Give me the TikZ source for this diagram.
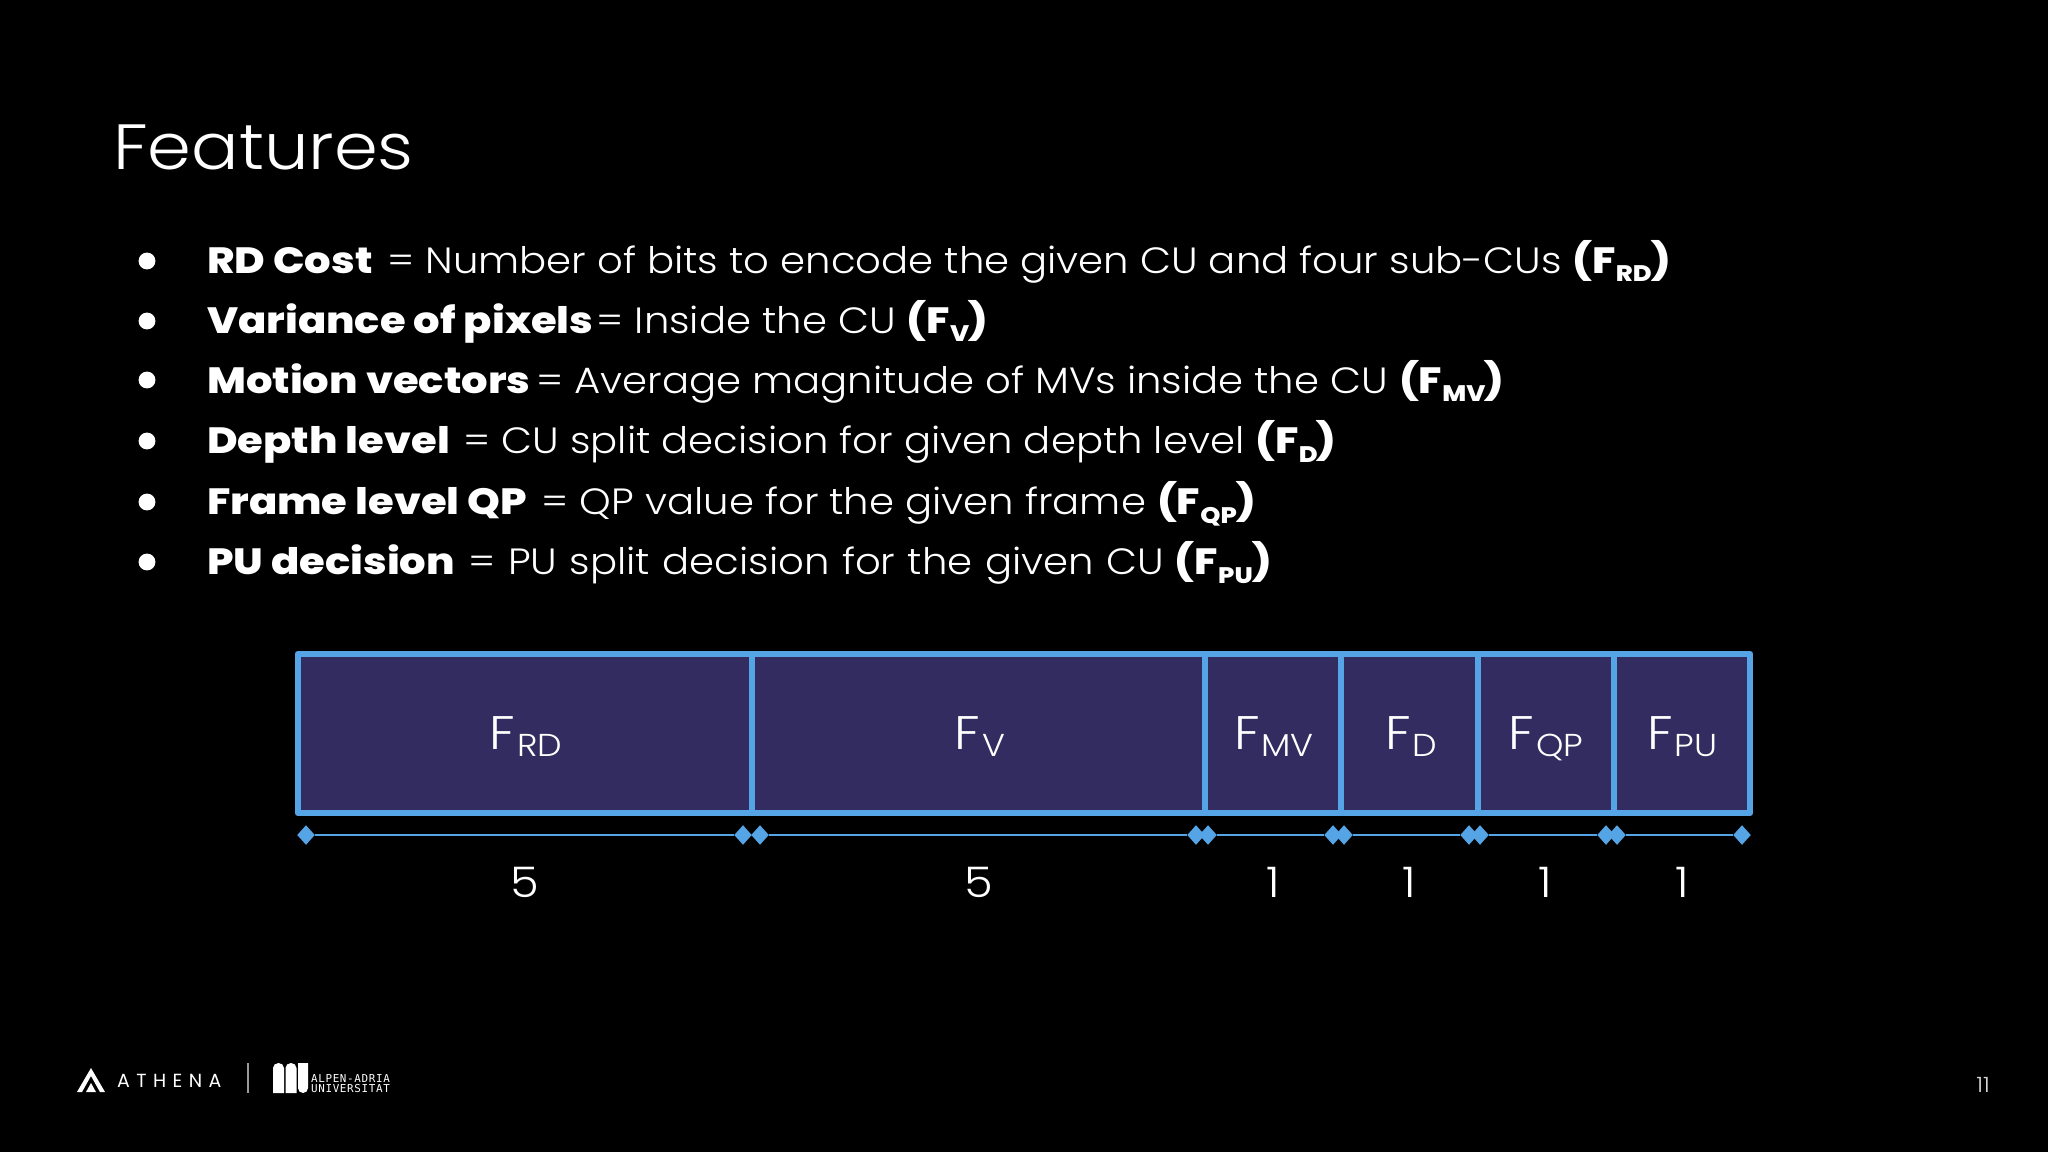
\documentclass[tikz,border=0pt]{standalone}
\usepackage{fontspec}
\usetikzlibrary{shapes.geometric}
\setmainfont{Poppins Light}[BoldFont=Poppins ExtraBold,FakeStretch=1.1,BoldFeatures={FakeStretch=1.14}]
\newfontfamily\athenafont{Poppins}[LetterSpace=34]
\newfontfamily\unifont{DejaVu Sans Mono}[LetterSpace=6]
\definecolor{barfill}{HTML}{332C60}
\definecolor{barline}{HTML}{55A5E6}
\definecolor{muted}{HTML}{9A9A9A}
\definecolor{pagegrey}{HTML}{D8D8D8}
\newcommand{\sbr}[1]{\kern0.01em\raisebox{-12.8pt}{\fontsize{32}{32}\selectfont #1}\kern-0.02em}
\newcommand{\FF}[1]{F\kern0.04em\raisebox{-11.3pt}{\fontsize{45}{45}\selectfont #1}}
\newcommand{\wsp}[2]{{\spaceskip=\dimexpr\fontdimen2\font+#1\relax #2}}
\tikzset{
 x=0.05cm,y=-0.05cm,
 bullettext/.style={anchor=base west,text=white,inner sep=0,font=\fontsize{52}{56}\selectfont},
 dot/.style={circle,fill=white,minimum size=24pt,inner sep=0,draw=none},
 seg/.style={anchor=base,text=white,inner sep=0,font=\fontsize{67}{70}\selectfont},
 num/.style={anchor=base,text=white,inner sep=0,font=\fontsize{60}{64}\selectfont},
 dia/.style={diamond,fill=barline,draw=none,minimum width=25pt,minimum height=28pt,inner sep=0,aspect=0.9},
 dimline/.style={draw=barline,line width=2.4pt},
 barbox/.style={fill=barfill,draw=barline,line width=9pt,line join=round},
 bardiv/.style={draw=barline,line width=8.5pt},
}
\begin{document}
\begin{tikzpicture}
\useasboundingbox[fill=black] (0,0) rectangle (2048,1152);
\node[anchor=base west,text=white,inner sep=0,font=\fontsize{91}{95}\selectfont] (title) at (113,170) {Features};
\foreach \n/\y in {a/261,b/321,c/380,d/441,e/502,f/562}{
 \node[dot] (dot\n) at (147,\y) {};
}
\node[bullettext] (ta) at (207,273) {\textbf{RD Cost}\kern5.5pt{} = Number of bits to encode the given CU and four sub-CUs \textbf{(F\sbr{RD})}};
\node[bullettext] (tb) at (207,333) {\textbf{Variance of pixels}\kern-11pt{} = Inside the CU \textbf{(F\sbr{V})}};
\node[bullettext] (tc) at (207,393) {\textbf{Motion vectors}\kern-7.4pt{} = Average magnitude of MVs inside the CU \textbf{(F\sbr{MV})}};
\node[bullettext] (td) at (207,453) {\textbf{Depth level}\kern3.7pt{} = CU split decision for given depth level \textbf{(F\sbr{D})}};
\node[bullettext] (te) at (207,514) {\textbf{Frame level QP}\kern5.5pt{} = QP value for the given frame \textbf{(F\sbr{QP})}};
\node[bullettext] (tf) at (207,574) {\textbf{PU decision}\kern3.7pt{} \wsp{2pt}{= PU split decision for the given CU} \textbf{(F\sbr{PU})}};
% bar
\draw[barbox] (298,654) rectangle (1750,813);
\foreach \x in {752,1205,1341,1477.5,1614}{ \draw[bardiv] (\x,654) -- (\x,813); }
\node[seg] (s1) at (526,749) {\FF{RD}};
\node[seg] (s2) at (980,749) {\FF{V}};
\node[seg] (s3) at (1274,749) {\FF{MV}};
\node[seg] (s4) at (1411,749) {\FF{D}};
\node[seg] (s5) at (1546,749) {\FF{QP}};
\node[seg] (s6) at (1682,749) {\FF{PU}};
% dimension lines
\foreach \n/\xa/\xb in {1/306/743,2/760/1196,3/1208/1333,4/1344/1469,5/1480/1606,6/1617/1742}{
 \node[dia] (da\n) at (\xa,835) {};
 \node[dia] (db\n) at (\xb,835) {};
 \draw[dimline] (da\n) -- (db\n);
}
\node[num] (n1) at (525,897) {5};
\node[num] (n2) at (979,897) {5};
\node[num] (n3) at (1273,897) {1};
\node[num] (n4) at (1409,897) {1};
\node[num] (n5) at (1545,897) {1};
\node[num] (n6) at (1682,897) {1};
% footer
\fill[white] (91,1068) -- (105,1092) -- (100,1092) -- (91,1076) -- (82,1092) -- (77,1092) -- cycle;
\fill[white] (91,1083) -- (96,1092) -- (86,1092) -- cycle;
\node[anchor=base west,text=white,inner sep=0,font=\athenafont\fontsize{27}{27}\selectfont] (athena) at (117,1087) {ATHENA};
\draw[muted,line width=2.6pt] (248,1063) -- (248,1093);
\fill[white] (273,1093) -- (273,1068) arc[start angle=180,end angle=360,x radius=5.5,y radius=5] -- (284,1093) -- cycle;
\fill[white] (285.5,1093) -- (285.5,1068) arc[start angle=180,end angle=360,x radius=5.5,y radius=5] -- (296.5,1093) -- cycle;
\fill[white] (298,1063) -- (308,1063) -- (308,1088) arc[start angle=0,end angle=180,x radius=5,y radius=5] -- cycle;
\node[anchor=base west,text=white,inner sep=0,font=\unifont\fontsize{15.5}{15.5}\selectfont] (uni1) at (311,1082.5) {ALPEN-ADRIA};
\node[anchor=base west,text=white,inner sep=0,font=\unifont\fontsize{15.5}{15.5}\selectfont] (uni2) at (311,1092) {UNIVERSITAT};
\node[anchor=base,text=pagegrey,inner sep=0,font=\fontsize{30}{30}\selectfont] (page) at (1983,1092) {11};
\end{tikzpicture}
\end{document}
